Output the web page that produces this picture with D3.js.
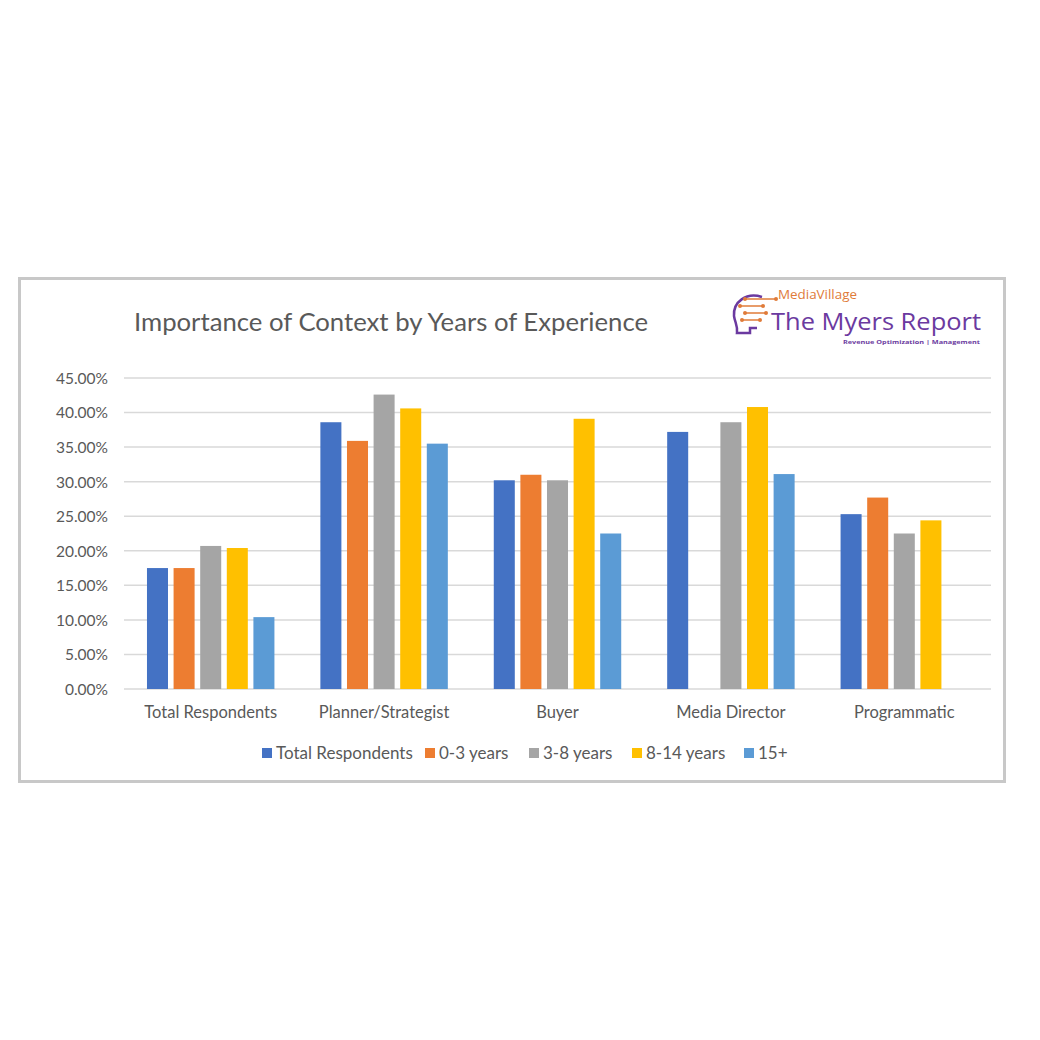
<!DOCTYPE html>
<html><head><meta charset="utf-8">
<script src="https://cdn.jsdelivr.net/npm/d3@7"></script>
<style>body{margin:0;background:#fff;font-family:Lato,"Open Sans",sans-serif;}</style>
</head><body><svg id="c" width="1040" height="1040"></svg>
<script>
const categories = ["Total Respondents","Planner/Strategist","Buyer","Media Director","Programmatic"];
const seriesNames = ["Total Respondents","0-3 years","3-8 years","8-14 years","15+"];
const totalRespondents = [17.5, 38.6, 30.2, 37.2, 25.3];
const years0to3 = [17.5, 35.9, 31.0, null, 27.7];
const years3to8 = [20.7, 42.6, 30.2, 38.6, 22.5];
const years8to14 = [20.4, 40.6, 39.1, 40.8, 24.4];
const years15plus = [10.4, 35.5, 22.5, 31.1, null];
const yTicks = [0,5,10,15,20,25,30,35,40,45];
const colors = ["#4472c4","#ed7d31","#a5a5a5","#ffc000","#5b9bd5"];
const seriesValues = [totalRespondents, years0to3, years3to8, years8to14, years15plus];

const svg = d3.select("#c");
const textCol = "#595959";
const FONT = "Lato, sans-serif";
// outer frame
svg.append("rect").attr("x",19.5).attr("y",278.5).attr("width",985).attr("height",503)
  .attr("fill","#fff").attr("stroke","#c8c8c8").attr("stroke-width",3);

// title
svg.append("text").attr("x",134).attr("y",331).attr("fill",textCol)
  .attr("font-size",25).attr("font-family",FONT)
  .attr("textLength",514).attr("lengthAdjust","spacingAndGlyphs")
  .text("Importance of Context by Years of Experience");

const x0 = d3.scaleBand().domain(categories).range([124,991]).paddingInner(0.265).paddingOuter(0.1325);
const x1 = d3.scaleBand().domain(seriesNames).range([0,x0.bandwidth()]).paddingInner(0.21);
const y = d3.scaleLinear().domain([0,45]).range([689,378]);

// gridlines
svg.append("g").selectAll("line").data(yTicks).join("line")
  .attr("x1",124).attr("x2",991).attr("y1",d=>y(d)).attr("y2",d=>y(d))
  .attr("stroke","#d9d9d9").attr("stroke-width",1.5);

// y axis labels
const yAxis = d3.axisLeft(y).tickValues(yTicks).tickSize(0).tickPadding(0)
  .tickFormat(d=>d.toFixed(2)+"%");
const ya = svg.append("g").attr("transform","translate(108,0)").call(yAxis);
ya.select(".domain").remove();
ya.selectAll("text").attr("fill",textCol).attr("font-size",15.5).attr("font-family",FONT).attr("dy","0.35em");

// bars
const groups = svg.append("g").selectAll("g").data(categories).join("g")
  .attr("transform",d=>`translate(${x0(d)},0)`);
groups.selectAll("rect").data((c,i)=>seriesNames.map((s,j)=>({s, v:seriesValues[j][i], j})).filter(d=>d.v!=null))
  .join("rect")
  .attr("x",d=>x1(d.s)).attr("width",x1.bandwidth())
  .attr("y",d=>y(d.v)).attr("height",d=>y(0)-y(d.v))
  .attr("fill",d=>colors[d.j]);

// x axis labels
const xAxis = d3.axisBottom(x0).tickSize(0).tickPadding(0);
const xa = svg.append("g").attr("transform","translate(0,706)").call(xAxis);
xa.select(".domain").remove();
xa.selectAll("text").attr("fill",textCol).attr("font-size",16.5).attr("font-family",FONT).attr("dy","0.71em");

// legend
const legendX = [262,425,529,632,744];
const lg = svg.append("g").selectAll("g").data(seriesNames).join("g")
  .attr("transform",(d,i)=>`translate(${legendX[i]},753)`);
lg.append("rect").attr("x",0).attr("y",-5).attr("width",10).attr("height",10).attr("fill",(d,i)=>colors[i]);
lg.append("text").attr("x",14).attr("y",0).attr("dy","0.35em").attr("fill",textCol)
  .attr("font-size",17).attr("font-family",FONT).text(d=>d);

// logo
const logo = svg.append("g");
const purple = "#6b3aa0", orange = "#e07b39";
logo.append("path").attr("d","M762,297 C746,292 733,302 734,316 C735,323 738,326 737,333 L750,333 L750,328 L757,328")
  .attr("fill","none").attr("stroke",purple).attr("stroke-width",2.5);
[[745,299,776],[740,306,763],[745,313,766],[742,320,760]].forEach(([a,yy,b])=>{
  logo.append("line").attr("x1",a).attr("x2",b).attr("y1",yy).attr("y2",yy).attr("stroke",orange).attr("stroke-width",1.5);
  logo.append("circle").attr("cx",a).attr("cy",yy).attr("r",2).attr("fill",orange);
  logo.append("circle").attr("cx",b).attr("cy",yy).attr("r",2).attr("fill",orange);
});
logo.append("text").attr("x",778).attr("y",299).attr("fill",orange).attr("font-size",12)
  .attr("textLength",79).attr("lengthAdjust","spacingAndGlyphs")
  .attr("font-family","'Open Sans', sans-serif").text("MediaVillage");
logo.append("text").attr("x",771).attr("y",330).attr("fill",purple).attr("font-size",24)
  .attr("textLength",210).attr("lengthAdjust","spacingAndGlyphs")
  .attr("font-family","'Open Sans', sans-serif").text("The Myers Report");
logo.append("text").attr("x",843).attr("y",344).attr("fill",purple).attr("font-size",6)
  .attr("font-weight","bold").attr("textLength",137).attr("lengthAdjust","spacingAndGlyphs")
  .attr("font-family","'Open Sans', sans-serif").text("Revenue Optimization | Management");
</script></body></html>
